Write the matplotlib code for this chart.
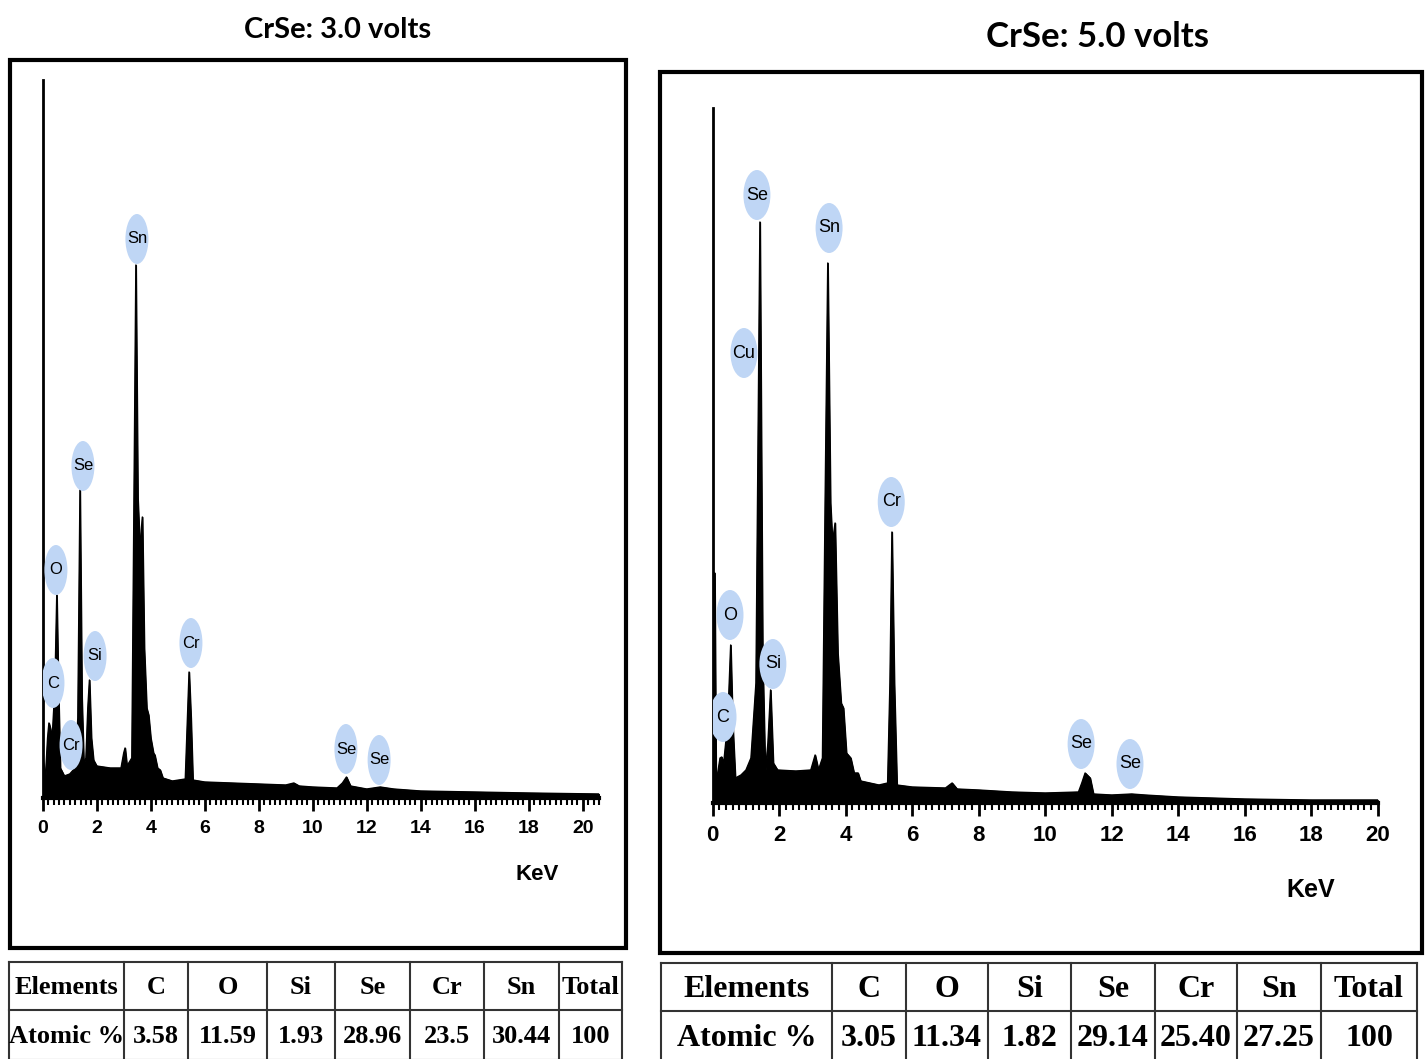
import matplotlib.pyplot as plt
from matplotlib.patches import Ellipse, Rectangle
from matplotlib.ticker import MultipleLocator

W, H = 1426, 1059

# EDX spectrum at 3.0 V (energy in keV, counts in arbitrary units)
kev_3v = [0.00, 0.10, 0.18, 0.23, 0.28, 0.35, 0.45, 0.52, 0.58, 0.65, 0.80, 1.00,
          1.20, 1.30, 1.38, 1.45, 1.52, 1.60, 1.67, 1.73, 1.80, 1.88, 2.00, 2.50,
          2.90, 3.00, 3.05, 3.12, 3.30, 3.38, 3.45, 3.52, 3.60, 3.69, 3.76, 3.85,
          3.92, 4.00, 4.10, 4.15, 4.25, 4.35, 4.45, 4.80, 5.28, 5.36, 5.42, 5.49,
          5.56, 6.00, 7.00, 8.00, 9.00, 9.30, 9.50, 10.00, 10.90, 11.10, 11.25,
          11.40, 12.00, 12.50, 13.00, 14.00, 16.00, 18.00, 20.60]
counts_3v = [40, 21, 60, 75, 70, 60, 110, 203, 110, 30, 22, 24,
             30, 80, 308, 100, 35, 40, 90, 118, 60, 38, 32, 30,
             30, 45, 50, 32, 40, 300, 533, 300, 250, 281, 150, 90,
             83, 60, 45, 43, 30, 28, 20, 17, 19, 80, 126, 80,
             18, 16, 15, 14, 13, 15, 12, 11, 10, 15, 21,
             12, 9, 11, 9, 7, 6, 5, 4]

# EDX spectrum at 5.0 V
kev_5v = [0.00, 0.06, 0.10, 0.15, 0.22, 0.27, 0.33, 0.45, 0.54, 0.60, 0.68, 0.85,
          1.00, 1.15, 1.30, 1.42, 1.50, 1.58, 1.66, 1.74, 1.82, 1.95, 2.50, 2.95,
          3.08, 3.18, 3.30, 3.38, 3.46, 3.54, 3.60, 3.68, 3.76, 3.86, 3.93, 4.02,
          4.15, 4.25, 4.37, 4.45, 5.00, 5.26, 5.33, 5.39, 5.46, 5.54, 6.00, 7.00,
          7.20, 7.35, 8.00, 9.00, 10.00, 11.00, 11.10, 11.20, 11.35, 11.45, 12.00,
          12.60, 13.00, 14.00, 16.00, 18.00, 20.00]
counts_5v = [230, 230, 20, 30, 45, 46, 40, 80, 158, 80, 25, 28,
             33, 45, 120, 581, 150, 30, 60, 113, 40, 33, 32, 33,
             48, 33, 45, 300, 540, 300, 260, 280, 150, 100, 95, 50,
             45, 30, 30, 22, 18, 20, 120, 271, 120, 18, 16, 15,
             20, 14, 13, 11, 10, 11, 20, 30, 25, 9, 8,
             9, 8, 6, 4, 3, 3]

# peak labels
labels_3v = ["Sn", "Se", "O", "C", "Si", "Cr", "Cr", "Se", "Se"]
label_kev_3v = [3.49, 1.49, 0.49, 0.38, 1.94, 1.05, 5.49, 11.23, 12.46]
label_y_3v = [559, 332, 228, 115, 142, 53, 155, 49, 38]

labels_5v = ["Se", "Sn", "Cu", "Cr", "O", "Si", "C", "Se", "Se"]
label_kev_5v = [1.33, 3.50, 0.94, 5.37, 0.52, 1.81, 0.31, 11.08, 12.55]
label_y_5v = [608, 575, 450, 301, 188, 139, 86, 59, 39]

# composition tables
elements = ["C", "O", "Si", "Se", "Cr", "Sn", "Total"]
atomic_3v = ["3.58", "11.59", "1.93", "28.96", "23.5", "30.44", "100"]
atomic_5v = ["3.05", "11.34", "1.82", "29.14", "25.40", "27.25", "100"]

BUBBLE = "#bfd6f5"


def fig_rect(x0, y0, x1, y1):
    # pixel box (top-left origin) -> figure fraction [left, bottom, width, height]
    return [x0 / W, 1 - y1 / H, (x1 - x0) / W, (y1 - y0) / H]


def draw_spectrum(fig, rect, kev, counts, labels, lab_x, lab_y, xmax, ymax,
                  bubble_w, bubble_h, tick_size, label_size, kev_size, kev_coords):
    ax = fig.add_axes(rect)
    ax.fill_between(kev, counts, 0, color="black", lw=1.0)
    ax.plot(kev, counts, color="black", lw=1.0)

    for name, x, y in zip(labels, lab_x, lab_y):
        ax.add_patch(Ellipse((x, y), bubble_w, bubble_h, facecolor=BUBBLE,
                             edgecolor="none", zorder=5))
        ax.text(x, y, name, ha="center", va="center", fontsize=label_size,
                family="Liberation Sans", zorder=6)

    ax.set_xlim(0, xmax)
    ax.set_ylim(0, ymax)
    ax.spines["top"].set_visible(False)
    ax.spines["right"].set_visible(False)
    ax.spines["left"].set_linewidth(2)
    ax.spines["bottom"].set_linewidth(3)
    ax.set_yticks([])
    ax.xaxis.set_major_locator(MultipleLocator(2))
    ax.xaxis.set_minor_locator(MultipleLocator(0.2))
    ax.tick_params(axis="x", which="major", length=9, width=2, pad=7,
                   labelsize=tick_size)
    ax.tick_params(axis="x", which="minor", length=5, width=1.5)
    for t in ax.get_xticklabels():
        t.set_fontweight("bold")
        t.set_family("Liberation Sans")
    ax.set_xlabel("KeV", fontsize=kev_size, fontweight="bold",
                  family="Liberation Sans")
    ax.xaxis.set_label_coords(*kev_coords)
    ax.patch.set_alpha(0)
    return ax


def draw_table(fig, col_edges, y_top, y_mid, y_bot, values, fontsize):
    ax = fig.add_axes(fig_rect(col_edges[0], y_top, col_edges[-1], y_bot))
    ax.set_xlim(col_edges[0], col_edges[-1])
    ax.set_ylim(y_bot, y_top)
    ax.axis("off")
    for x in col_edges:
        ax.plot([x, x], [y_top, y_bot], color="#333333", lw=1.5, clip_on=False)
    for y in (y_top, y_mid, y_bot):
        ax.plot([col_edges[0], col_edges[-1]], [y, y], color="#333333", lw=1.5,
                clip_on=False)
    rows = [["Elements"] + elements, ["Atomic %"] + values]
    for r, (row, y0, y1) in enumerate(zip(rows, (y_top, y_mid), (y_mid, y_bot))):
        for c, txt in enumerate(row):
            xc = (col_edges[c] + col_edges[c + 1]) / 2
            ax.text(xc, (y0 + y1) / 2 + 2, txt, ha="center", va="center",
                    fontsize=fontsize, fontweight="bold", family="Liberation Serif")


fig = plt.figure(figsize=(W / 100, H / 100), dpi=100)

# panel frames
for x0, y0, x1, y1 in [(10, 60, 626, 948), (660, 72, 1422, 953)]:
    fig.add_artist(Rectangle((x0 / W, 1 - y1 / H), (x1 - x0) / W, (y1 - y0) / H,
                             transform=fig.transFigure, fill=False, lw=3,
                             edgecolor="black"))

fig.text(338 / W, 1 - 30 / H, "CrSe: 3.0 volts", ha="center", va="center",
         fontsize=21, fontweight="bold", family="Lato")
fig.text(1098 / W, 1 - 37 / H, "CrSe: 5.0 volts", ha="center", va="center",
         fontsize=25, fontweight="bold", family="Lato")

# left spectrum: 0 keV at x=42.7 px, 27 px/keV, baseline y=798, top y=80
draw_spectrum(fig, fig_rect(42.7, 80, 42.7 + 20.6 * 27, 798),
              kev_3v, counts_3v, labels_3v, label_kev_3v, label_y_3v,
              20.6, 718, 23 / 27, 50, 14, 12, 16,
              ((537 - 42.7) / 556.2, -66 / 718))

# right spectrum: 0 keV at x=712.7 px, 33.25 px/keV, baseline y=803, top y=108
draw_spectrum(fig, fig_rect(712.7, 108, 712.7 + 20 * 33.25, 803),
              kev_5v, counts_5v, labels_5v, label_kev_5v, label_y_5v,
              20, 695, 27 / 33.25, 50, 16, 13, 18,
              ((1311 - 712.7) / 665, -75 / 695))

draw_table(fig, [9, 124, 188, 267, 335, 410, 484, 559, 622], 962, 1010, 1060,
           atomic_3v, 19)
draw_table(fig, [661, 832, 906, 988, 1071, 1155, 1237, 1321, 1417], 963, 1011, 1061,
           atomic_5v, 23)

fig.savefig("out.png", dpi=100)
